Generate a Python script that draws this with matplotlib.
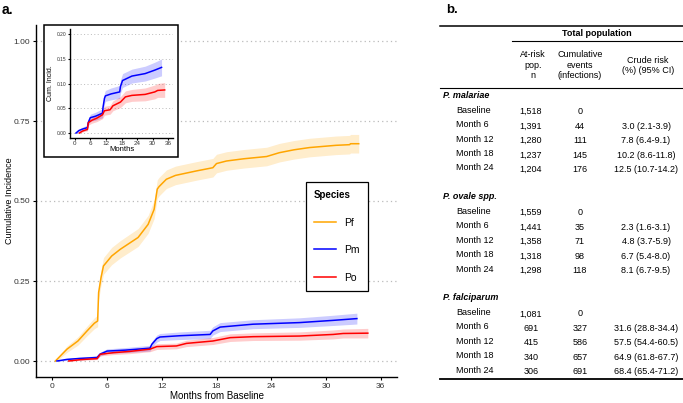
import matplotlib
matplotlib.use("Agg")
import matplotlib.pyplot as plt
from matplotlib.lines import Line2D
from matplotlib.patches import Rectangle

plt.rcParams["font.family"] = ["Liberation Sans", "DejaVu Sans"]

# curves (months, cumulative incidence, CI half-width)
pf_month = [0.33, 1.6, 2.8, 3.8, 4.6, 4.96, 5.07, 5.33, 5.6, 6.5, 7.44, 9.4, 10.5, 11.16,
            11.5, 11.7, 12.5, 13.5, 15.8, 17.6, 18.0, 19.1, 21.0, 23.5, 24.9, 26.5, 28.2,
            31.1, 32.6, 32.7, 33.6]
pf_cum = [0.0, 0.037, 0.0625, 0.094, 0.118, 0.125, 0.214, 0.26, 0.297, 0.328, 0.349, 0.386,
          0.427, 0.474, 0.537, 0.545, 0.568, 0.58, 0.594, 0.604, 0.617, 0.625, 0.632, 0.639,
          0.651, 0.66, 0.667, 0.674, 0.676, 0.679, 0.679]
pf_ci = [0.003, 0.01, 0.013, 0.015, 0.017, 0.018, 0.022, 0.024, 0.026, 0.027, 0.027, 0.028,
         0.028, 0.029, 0.029, 0.029, 0.029, 0.029, 0.029, 0.029, 0.029, 0.029, 0.029, 0.029,
         0.029, 0.029, 0.029, 0.029, 0.029, 0.029, 0.029]

pm_month = [0.5, 1.6, 3.0, 4.9, 5.2, 6.0, 8.0, 10.7, 10.9, 11.45, 11.8, 14.0, 17.3, 17.6,
            18.4, 22.0, 27.1, 30.8, 33.4]
pm_cum = [0.0, 0.005, 0.008, 0.011, 0.021, 0.031, 0.034, 0.040, 0.052, 0.070, 0.075, 0.079,
          0.083, 0.094, 0.106, 0.115, 0.120, 0.127, 0.1325]
pm_ci = [0.001, 0.003, 0.004, 0.005, 0.006, 0.007, 0.008, 0.009, 0.009, 0.011, 0.011, 0.012,
         0.013, 0.013, 0.014, 0.014, 0.015, 0.016, 0.017]

po_month = [1.8, 3.0, 4.9, 5.25, 6.7, 8.5, 10.7, 11.45, 13.6, 14.7, 17.6, 19.5, 22.0, 27.1,
            30.8, 31.9, 34.6]
po_cum = [0.0, 0.004, 0.0075, 0.021, 0.026, 0.030, 0.037, 0.045, 0.047, 0.055, 0.0625, 0.073,
          0.076, 0.078, 0.083, 0.086, 0.087]
po_ci = [0.001, 0.002, 0.003, 0.005, 0.006, 0.007, 0.008, 0.009, 0.009, 0.010, 0.011, 0.012,
         0.012, 0.013, 0.014, 0.014, 0.015]

species = ["Pf", "Pm", "Po"]
colors = ["#FFA500", "#0000FF", "#FF0000"]
month_ticks = [0, 6, 12, 18, 24, 30, 36]
y_ticks = [0.0, 0.25, 0.5, 0.75, 1.0]
inset_y_ticks = [0.0, 0.05, 0.10, 0.15, 0.20]

# table values
group_labels = ["P. malariae", "P. ovale spp.", "P. falciparum"]
timepoints = ["Baseline", "Month 6", "Month 12", "Month 18", "Month 24"]
pm_at_risk = ["1,518", "1,391", "1,280", "1,237", "1,204"]
pm_events = ["0", "44", "111", "145", "176"]
pm_risk = ["", "3.0 (2.1-3.9)", "7.8 (6.4-9.1)", "10.2 (8.6-11.8)", "12.5 (10.7-14.2)"]
po_at_risk = ["1,559", "1,441", "1,358", "1,318", "1,298"]
po_events = ["0", "35", "71", "98", "118"]
po_risk = ["", "2.3 (1.6-3.1)", "4.8 (3.7-5.9)", "6.7 (5.4-8.0)", "8.1 (6.7-9.5)"]
pf_at_risk = ["1,081", "691", "415", "340", "306"]
pf_events = ["0", "327", "586", "657", "691"]
pf_risk = ["", "31.6 (28.8-34.4)", "57.5 (54.4-60.5)", "64.9 (61.8-67.7)", "68.4 (65.4-71.2)"]

W, H = 683, 403


def fx(x):
    return x / W


def fy(y):
    return 1 - y / H


def band(ax, xs, ys, ci, color):
    lo = [y - c for y, c in zip(ys, ci)]
    hi = [y + c for y, c in zip(ys, ci)]
    ax.fill_between(xs, lo, hi, color=color, alpha=0.2, lw=0)
    ax.plot(xs, ys, color=color, lw=1.1)


def style_axis(ax, tick_size, grid_lw):
    for s in ["top", "right"]:
        ax.spines[s].set_visible(False)
    for s in ["left", "bottom"]:
        ax.spines[s].set_linewidth(1.0)
    ax.yaxis.grid(True, linestyle=(0, (1, 2.5)), color="#BBBBBB", lw=grid_lw)
    ax.set_axisbelow(True)
    ax.tick_params(labelsize=tick_size, colors="#333333", length=2.5, width=0.8, pad=1.5)
    ax.tick_params(color="black")


fig = plt.figure(figsize=(6.83, 4.03), dpi=100)

# ---- panel a: main axes
ax = fig.add_axes([fx(36), fy(377), fx(397) - fx(36), fy(25) - fy(377)])
band(ax, pf_month, pf_cum, pf_ci, colors[0])
band(ax, pm_month, pm_cum, pm_ci, colors[1])
band(ax, po_month, po_cum, po_ci, colors[2])
ax.set_xlim(-1.8, 37.8)
ax.set_ylim(-0.05, 1.05)
ax.set_xticks(month_ticks)
ax.set_yticks(y_ticks)
ax.set_yticklabels([f"{v:.2f}" for v in y_ticks])
style_axis(ax, 6, 0.9)
ax.set_xlabel("Months from Baseline", fontsize=7, labelpad=1)
ax.set_ylabel("Cumulative Incidence", fontsize=6.5)
ax.yaxis.set_label_coords(-0.062, 0.5)

handles = [Line2D([], [], color=c, lw=1.1) for c in colors]
leg = ax.legend(handles, species, title="Species", loc="upper left",
                bbox_to_anchor=(fx(305.7), fy(181.7)), bbox_transform=fig.transFigure,
                borderaxespad=0, fancybox=False, edgecolor="black", framealpha=1,
                fontsize=7.5, handlelength=2.1, handletextpad=0.8, labelspacing=1.68,
                borderpad=0.8, alignment="left",
                title_fontproperties={"weight": "bold", "size": 7})
leg.get_frame().set_linewidth(0.9)

# ---- inset
frame = Rectangle((fx(44), fy(157)), fx(178) - fx(44), fy(25) - fy(157),
                  transform=fig.transFigure, facecolor="white", edgecolor="black", lw=1.1)
fig.add_artist(frame)
axi = fig.add_axes([fx(70), fy(138), fx(173) - fx(70), fy(29) - fy(138)])
axi.set_zorder(3)
axi.patch.set_alpha(0)
band(axi, pm_month, pm_cum, pm_ci, colors[1])
band(axi, po_month, po_cum, po_ci, colors[2])
axi.set_xlim(-1.8, 37.8)
axi.set_ylim(-0.01, 0.21)
axi.set_xticks(month_ticks)
axi.set_yticks(inset_y_ticks)
axi.set_yticklabels([f"{v:.2f}" for v in inset_y_ticks])
style_axis(axi, 4.5, 0.7)
axi.tick_params(axis="y", labelsize=3.5, length=1.5, pad=1)
axi.tick_params(axis="x", length=1.5, pad=1)
axi.set_xlabel("Months", fontsize=5.5, labelpad=0)
axi.set_ylabel("Cum. Incid.", fontsize=5, labelpad=2)

# ---- panel labels
fig.text(fx(2), fy(10), "a.", fontsize=10, weight="bold", va="center")
fig.text(fx(446), fy(10), "b.", fontsize=9.5, weight="bold", va="center")

# ---- panel b: table
fs = 6.5
col_n, col_ev, col_risk = 531, 580, 646


def hline(x0, x1, y, lw):
    fig.add_artist(Line2D([fx(x0), fx(x1)], [fy(y), fy(y)], transform=fig.transFigure,
                          color="black", lw=lw))


hline(440, 683, 26, 1.1)
fig.text(fx(597), fy(33.3), "Total population", fontsize=fs, weight="bold",
         ha="center", va="center")
hline(512, 683, 40.7, 0.8)
fig.text(fx(533), fy(65), "At-risk\npop.\nn", fontsize=fs, ha="center", va="center",
         linespacing=1.25)
fig.text(fx(580), fy(65), "Cumulative\nevents\n(infections)", fontsize=fs, ha="center",
         va="center", linespacing=1.25)
fig.text(fx(648), fy(65.5), "Crude risk\n(%) (95% CI)", fontsize=fs, ha="center",
         va="center", linespacing=1.25)
hline(440, 683, 88, 0.8)

groups = [(pm_at_risk, pm_events, pm_risk), (po_at_risk, po_events, po_risk),
          (pf_at_risk, pf_events, pf_risk)]
step = 14.45
row = 0
for label, (n_vals, ev_vals, risk_vals) in zip(group_labels, groups):
    y = 95.7 + row * step
    fig.text(fx(443), fy(y), label, fontsize=fs, weight="bold", style="italic", va="center")
    row += 1
    for tp, n, ev, rk in zip(timepoints, n_vals, ev_vals, risk_vals):
        y = 95.7 + row * step
        fig.text(fx(456), fy(y), tp, fontsize=fs, va="center")
        fig.text(fx(col_n), fy(y + 1.5), n, fontsize=fs, ha="center", va="center")
        fig.text(fx(col_ev), fy(y + 1.5), ev, fontsize=fs, ha="center", va="center")
        fig.text(fx(col_risk), fy(y + 1.5), rk, fontsize=fs, ha="center", va="center")
        row += 1
    row += 1
hline(440, 683, 379, 1.3)

fig.savefig("out.png", dpi=100)
